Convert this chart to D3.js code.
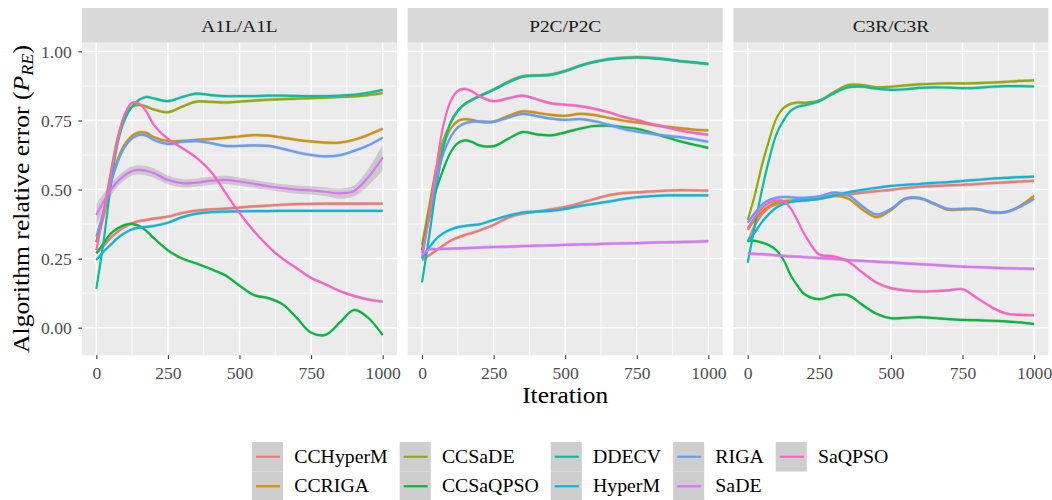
<!DOCTYPE html>
<html>
<head>
<meta charset="utf-8">
<script src="https://cdn.jsdelivr.net/npm/d3@7"></script>
<style>
  html, body { margin: 0; padding: 0; background: #ffffff; overflow: hidden; }
  svg { display: block; }
</style>
</head>
<body>
<svg id="chart" width="1052" height="500"></svg>
<script>
// ---- data -----------------------------------------------------------------
const facetLabels = ["A1L/A1L", "P2C/P2C", "C3R/C3R"];
const algorithms = ["CCHyperM", "CCRIGA", "CCSaDE", "CCSaQPSO", "DDECV", "HyperM", "RIGA", "SaDE", "SaQPSO"];
const algorithmColors = ["#F8766D", "#D39200", "#93AA00", "#00BA38", "#00C19F", "#00B9E3", "#619CFF", "#DB72FB", "#FF61C3"];
const iterations = [0, 25, 50, 75, 100, 125, 150, 175, 200, 250, 300, 350, 400, 450, 500, 550, 600, 650, 700, 750, 800, 850, 900, 950, 1000];
const xTicks = [0, 250, 500, 750, 1000];
const yTicks = [0, 0.25, 0.5, 0.75, 1];
const yTickLabels = ["0.00", "0.25", "0.50", "0.75", "1.00"];

// A1L/A1L smoothed relative error
const a1lCCHyperM = [.27,.295,.325,.348,.365,.378,.386,.39,.395,.402,.415,.424,.428,.431,.435,.439,.442,.445,.447,.448,.449,.449,.449,.449,.449];
const a1lCCRIGA   = [.31,.40,.52,.61,.665,.695,.707,.705,.69,.675,.676,.68,.683,.687,.692,.697,.695,.688,.68,.674,.67,.67,.68,.698,.72];
const a1lCCSaDE   = [.31,.42,.56,.69,.77,.80,.806,.80,.79,.78,.80,.818,.817,.815,.818,.822,.825,.827,.829,.831,.833,.835,.837,.842,.849];
const a1lCCSaQPSO = [.27,.305,.34,.36,.372,.376,.368,.35,.325,.28,.25,.232,.212,.19,.152,.118,.107,.085,.035,-.018,-.026,.018,.064,.035,-.027];
const a1lDDECV    = [.14,.31,.51,.67,.755,.80,.825,.835,.83,.82,.835,.847,.842,.838,.838,.838,.84,.84,.839,.838,.838,.84,.843,.85,.861];
const a1lHyperM   = [.245,.275,.30,.325,.343,.356,.362,.365,.368,.38,.40,.413,.418,.42,.421,.422,.422,.423,.423,.423,.423,.423,.423,.423,.423];
const a1lRIGA     = [.33,.42,.52,.60,.655,.685,.698,.695,.68,.665,.673,.675,.668,.658,.658,.66,.658,.648,.635,.625,.62,.624,.64,.66,.688];
const a1lSaDE     = [.408,.455,.497,.53,.552,.567,.571,.568,.56,.535,.523,.525,.532,.535,.529,.521,.512,.505,.5,.497,.492,.486,.495,.545,.616];
const a1lSaQPSO   = [.28,.41,.55,.68,.775,.814,.81,.782,.735,.683,.65,.615,.565,.49,.415,.35,.295,.25,.215,.18,.157,.133,.115,.102,.094];
const a1lSaDESe   = [.04,.03,.022,.018,.017,.017,.017,.017,.017,.016,.015,.015,.015,.015,.015,.014,.014,.014,.015,.015,.016,.018,.02,.03,.048];

// P2C/P2C smoothed relative error
const p2cCCHyperM = [.245,.262,.28,.298,.315,.326,.336,.343,.352,.372,.398,.413,.42,.428,.437,.45,.465,.479,.487,.49,.493,.496,.498,.497,.496];
const p2cCCRIGA   = [.28,.42,.56,.66,.72,.748,.755,.752,.745,.746,.766,.783,.778,.77,.767,.774,.77,.76,.75,.743,.735,.728,.722,.717,.714];
const p2cCCSaDE   = [.30,.44,.58,.68,.74,.785,.81,.825,.838,.862,.89,.91,.913,.917,.93,.948,.962,.972,.977,.979,.977,.972,.965,.96,.954];
const p2cCCSaQPSO = [.28,.40,.50,.575,.635,.668,.678,.672,.66,.657,.683,.708,.70,.696,.707,.72,.73,.731,.726,.72,.706,.69,.675,.662,.651];
const p2cDDECV    = [.164,.33,.51,.65,.745,.785,.81,.825,.838,.861,.887,.908,.912,.915,.928,.947,.961,.971,.976,.978,.976,.971,.965,.96,.954];
const p2cHyperM   = [.25,.29,.322,.342,.355,.364,.368,.371,.374,.39,.405,.417,.42,.423,.43,.44,.448,.456,.465,.472,.476,.479,.479,.479,.479];
const p2cRIGA     = [.251,.40,.535,.63,.69,.725,.74,.746,.747,.745,.76,.774,.766,.757,.752,.755,.748,.735,.72,.71,.702,.695,.69,.682,.673];
const p2cSaDE     = [.263,.283,.284,.285,.286,.287,.288,.289,.29,.292,.293,.295,.297,.298,.30,.301,.302,.304,.305,.306,.308,.309,.31,.311,.313];
const p2cSaQPSO   = [.27,.40,.58,.735,.82,.857,.864,.855,.838,.82,.83,.84,.827,.812,.807,.802,.793,.78,.764,.752,.738,.726,.714,.705,.698];

// C3R/C3R smoothed relative error
const c3rCCHyperM = [.31,.37,.41,.435,.447,.455,.457,.46,.462,.467,.476,.482,.489,.494,.499,.505,.51,.513,.515,.517,.52,.523,.526,.529,.531];
const c3rCCRIGA   = [.354,.39,.42,.44,.452,.458,.46,.461,.462,.467,.478,.468,.428,.40,.425,.465,.468,.448,.427,.428,.428,.417,.418,.44,.478];
const c3rCCSaDE   = [.39,.48,.59,.68,.757,.795,.81,.815,.814,.822,.852,.878,.878,.87,.872,.877,.881,.883,.884,.884,.885,.887,.89,.893,.895];
const c3rCCSaQPSO = [.315,.314,.308,.298,.28,.245,.19,.15,.12,.103,.117,.118,.083,.05,.034,.036,.038,.035,.031,.028,.027,.025,.023,.019,.013];
const c3rDDECV    = [.235,.37,.50,.61,.70,.75,.785,.80,.805,.82,.848,.87,.872,.865,.861,.863,.868,.87,.869,.867,.868,.872,.874,.874,.873];
const c3rHyperM   = [.312,.345,.383,.412,.435,.448,.455,.459,.461,.466,.478,.49,.499,.506,.513,.517,.52,.524,.527,.531,.535,.539,.542,.545,.547];
const c3rRIGA     = [.38,.415,.445,.462,.47,.473,.472,.47,.47,.475,.489,.48,.44,.41,.43,.467,.47,.45,.43,.43,.43,.418,.418,.437,.466];
const c3rSaDE     = [.269,.267,.266,.264,.262,.26,.258,.257,.255,.252,.249,.245,.242,.239,.236,.233,.23,.227,.224,.221,.219,.217,.215,.214,.213];
const c3rSaQPSO   = [.36,.40,.432,.452,.46,.458,.432,.385,.335,.265,.258,.24,.2,.163,.143,.135,.131,.132,.135,.139,.108,.075,.052,.046,.045];

const seDefault = 0.006;

// per-facet lookup built from the arrays above
const facetSeries = [
  { CCHyperM: a1lCCHyperM, CCRIGA: a1lCCRIGA, CCSaDE: a1lCCSaDE, CCSaQPSO: a1lCCSaQPSO, DDECV: a1lDDECV,
    HyperM: a1lHyperM, RIGA: a1lRIGA, SaDE: a1lSaDE, SaQPSO: a1lSaQPSO },
  { CCHyperM: p2cCCHyperM, CCRIGA: p2cCCRIGA, CCSaDE: p2cCCSaDE, CCSaQPSO: p2cCCSaQPSO, DDECV: p2cDDECV,
    HyperM: p2cHyperM, RIGA: p2cRIGA, SaDE: p2cSaDE, SaQPSO: p2cSaQPSO },
  { CCHyperM: c3rCCHyperM, CCRIGA: c3rCCRIGA, CCSaDE: c3rCCSaDE, CCSaQPSO: c3rCCSaQPSO, DDECV: c3rDDECV,
    HyperM: c3rHyperM, RIGA: c3rRIGA, SaDE: c3rSaDE, SaQPSO: c3rSaQPSO }
];
const facetSe = [{ SaDE: a1lSaDESe }, {}, {}];

// ---- layout -----------------------------------------------------------------
const FONT = "'Liberation Serif', 'Times New Roman', serif";
const panelW = 315, panelGap = 10.7;
const panelLeft0 = 82, panelTop = 42.7, panelBottom = 355.3;
const stripTop = 8;
const serifStretch = 1.1;   // widens the Times-style glyphs to a roman book face width

const svg = d3.select("#chart").style("font-family", FONT);

const x = d3.scaleLinear().domain([-50, 1050]).range([0, panelW]);
const y = d3.scaleLinear().domain([-0.1, 1.0315]).range([panelBottom, panelTop]);
const color = d3.scaleOrdinal().domain(algorithms).range(algorithmColors);

const lineGen = d3.line()
  .x(d => x(d.iter)).y(d => y(d.value))
  .curve(d3.curveCatmullRom.alpha(0.5));
const areaGen = d3.area()
  .x(d => x(d.iter)).y0(d => y(d.value - d.se)).y1(d => y(d.value + d.se))
  .curve(d3.curveCatmullRom.alpha(0.5));

const minorX = [125, 375, 625, 875];
const minorY = [0.125, 0.375, 0.625, 0.875];

facetLabels.forEach((label, fi) => {
  const left = panelLeft0 + fi * (panelW + panelGap);
  const g = svg.append("g").attr("transform", `translate(${left},0)`);

  // strip
  g.append("rect").attr("x", 0).attr("y", stripTop).attr("width", panelW)
    .attr("height", panelTop - stripTop).attr("fill", "#D9D9D9");
  g.append("g").attr("transform", `translate(${panelW / 2},32.3) scale(${serifStretch},1)`)
    .append("text").attr("text-anchor", "middle").attr("font-size", "17.6px")
    .attr("fill", "#1A1A1A").text(label);

  // panel background + grid
  g.append("rect").attr("x", 0).attr("y", panelTop).attr("width", panelW)
    .attr("height", panelBottom - panelTop).attr("fill", "#EBEBEB");
  const grid = g.append("g");
  grid.selectAll("line.minx").data(minorX).join("line")
    .attr("x1", d => x(d)).attr("x2", d => x(d)).attr("y1", panelTop).attr("y2", panelBottom)
    .attr("stroke", "#FFFFFF").attr("stroke-width", 0.75);
  grid.selectAll("line.miny").data(minorY).join("line")
    .attr("x1", 0).attr("x2", panelW).attr("y1", d => y(d)).attr("y2", d => y(d))
    .attr("stroke", "#FFFFFF").attr("stroke-width", 0.75);
  grid.selectAll("line.majx").data(xTicks).join("line")
    .attr("x1", d => x(d)).attr("x2", d => x(d)).attr("y1", panelTop).attr("y2", panelBottom)
    .attr("stroke", "#FFFFFF").attr("stroke-width", 1.5);
  grid.selectAll("line.majy").data(yTicks).join("line")
    .attr("x1", 0).attr("x2", panelW).attr("y1", d => y(d)).attr("y2", d => y(d))
    .attr("stroke", "#FFFFFF").attr("stroke-width", 1.5);

  // clip for the smoothers
  const clipId = `clip-${fi}`;
  g.append("clipPath").attr("id", clipId).append("rect")
    .attr("x", 0).attr("y", panelTop).attr("width", panelW).attr("height", panelBottom - panelTop);
  const marks = g.append("g").attr("clip-path", `url(#${clipId})`);

  algorithms.forEach(alg => {
    const vals = facetSeries[fi][alg];
    const seArr = facetSe[fi][alg];
    const pts = iterations.map((it, i) => ({ iter: it, value: vals[i], se: seArr ? seArr[i] : seDefault }));
    marks.append("path").datum(pts).attr("d", areaGen)
      .attr("fill", "#999999").attr("fill-opacity", 0.4);
    marks.append("path").datum(pts).attr("d", lineGen)
      .attr("fill", "none").attr("stroke", color(alg)).attr("stroke-width", 2.2)
      .attr("stroke-linejoin", "round").attr("stroke-linecap", "butt");
  });

  // x axis
  const xAxis = d3.axisBottom(x).tickValues(xTicks).tickSize(3.7).tickPadding(3).tickFormat(d3.format("d"));
  const xa = g.append("g").attr("transform", `translate(0,${panelBottom})`).call(xAxis);
  xa.select(".domain").remove();
  xa.selectAll(".tick line").attr("stroke", "#333333").attr("stroke-width", 1.07);
  xa.selectAll(".tick text").attr("font-family", FONT).attr("font-size", "17.6px")
    .attr("fill", "#4D4D4D").attr("dy", null).attr("y", 23.7);

  // y axis on the first facet only
  if (fi === 0) {
    const yAxis = d3.axisLeft(y).tickValues(yTicks).tickSize(3.7).tickPadding(6.5)
      .tickFormat((d, i) => yTickLabels[i]);
    const ya = g.append("g").call(yAxis);
    ya.select(".domain").remove();
    ya.selectAll(".tick line").attr("stroke", "#333333").attr("stroke-width", 1.07);
    ya.selectAll(".tick text").attr("font-family", FONT).attr("font-size", "17.6px")
      .attr("fill", "#4D4D4D");
  }
});

// axis titles
const plotCenterX = panelLeft0 + (3 * panelW + 2 * panelGap) / 2;
svg.append("g").attr("transform", `translate(${plotCenterX},403) scale(1.06,1)`)
  .append("text").attr("text-anchor", "middle").attr("font-size", "24px")
  .attr("fill", "#000000").text("Iteration");

const yTitle = svg.append("g")
  .attr("transform", `translate(29.3,${(panelTop + panelBottom) / 2}) rotate(-90) scale(1.07,1)`)
  .append("text").attr("text-anchor", "middle").attr("font-size", "24px").attr("fill", "#000000");
yTitle.append("tspan").text("Algorithm relative error (");
yTitle.append("tspan").attr("font-style", "italic").text("P");
yTitle.append("tspan").attr("font-style", "italic").attr("font-size", "17px").attr("dy", 4).text("RE");
yTitle.append("tspan").attr("dy", -4).text(")");

// legend: 2 rows, filled column by column
const keyW = 31, keyH = 29.5, legendTop = 442, labelGap = 11.2, colGap = 12;
const legendRows = 2;
const nCols = Math.ceil(algorithms.length / legendRows);
const legend = svg.append("g");

// measure labels to size columns
const probe = svg.append("text").attr("font-size", "18px");
const labelW = algorithms.map(a => { probe.text(a); return probe.node().getComputedTextLength() * serifStretch; });
probe.remove();
const colW = d3.range(nCols).map(c => {
  const items = algorithms.slice(c * legendRows, c * legendRows + legendRows).map((a, i) => labelW[c * legendRows + i]);
  return keyW + labelGap + d3.max(items);
});
const legendWidth = d3.sum(colW) + colGap * (nCols - 1);
let cx = plotCenterX + 5 - legendWidth / 2;
d3.range(nCols).forEach(c => {
  algorithms.slice(c * legendRows, c * legendRows + legendRows).forEach((alg, r) => {
    const ky = legendTop + r * keyH;
    legend.append("rect").attr("x", cx).attr("y", ky).attr("width", keyW).attr("height", keyH)
      .attr("fill", "#F2F2F2");
    legend.append("rect").attr("x", cx).attr("y", ky).attr("width", keyW).attr("height", keyH)
      .attr("fill", "#999999").attr("fill-opacity", 0.4);
    legend.append("line").attr("x1", cx + 4).attr("x2", cx + keyW - 3)
      .attr("y1", ky + keyH / 2).attr("y2", ky + keyH / 2)
      .attr("stroke", color(alg)).attr("stroke-width", 2.2);
    legend.append("g").attr("transform", `translate(${cx + keyW + labelGap},${ky + keyH / 2}) scale(${serifStretch},1)`)
      .append("text").attr("font-size", "18px").attr("dy", "0.33em").attr("fill", "#000000").text(alg);
  });
  cx += colW[c] + colGap;
});
</script>
</body>
</html>
